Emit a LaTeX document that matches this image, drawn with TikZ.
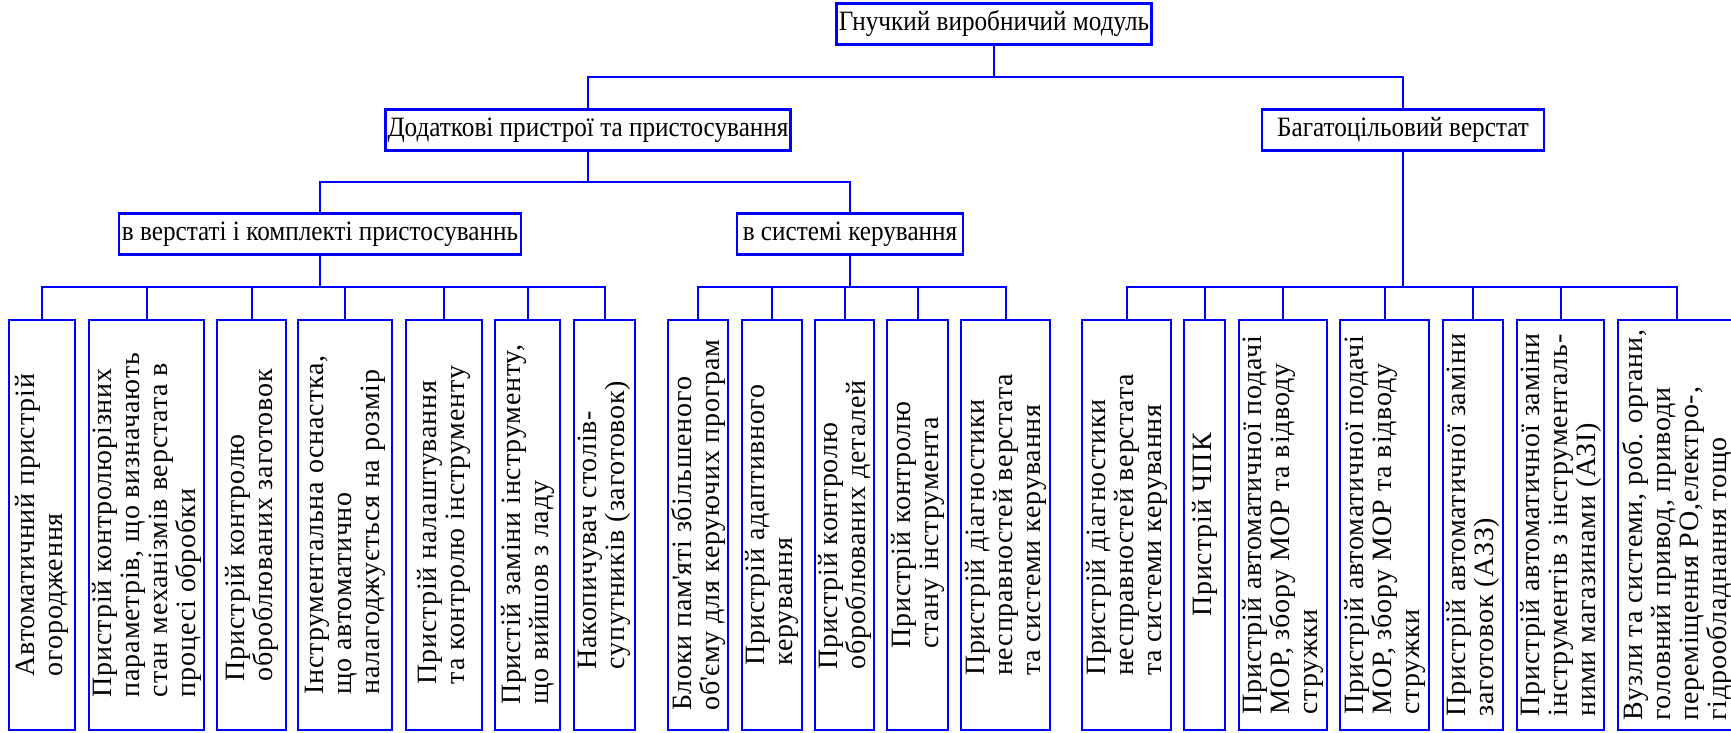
\documentclass[tikz,border=0pt]{standalone}
\usepackage{fontspec}
\setmainfont{Liberation Serif}
\newfontfamily\headfont{Liberation Serif}[FakeStretch=0.9]
\newfontfamily\leaffont{Liberation Serif}[LetterSpace=3]
\tikzset{
  box/.style={draw=blue,line width=2.5pt,inner sep=2pt,minimum height=41,font=\headfont\fontsize{28}{30}\selectfont},
  leaf/.style={draw=blue,line width=2.5pt,rotate=90,minimum width=410,minimum height=#1,inner sep=2pt,align=left,font=\leaffont\fontsize{28}{28}\selectfont},
  wire/.style={blue,line width=2pt}
}
\begin{document}
\begin{tikzpicture}[x=1pt,y=-1pt]
\useasboundingbox (0,0) rectangle (1731,733);
\clip (0,0) rectangle (1731,733);
\fill[white] (0,0) rectangle (1731,733);
\node[box,minimum width=315] (gvm) at (994,24) {Гнучкий виробничий модуль};
\node[box,minimum width=402] (dod) at (588,130) {Додаткові пристрої та пристосування};
\node[box,minimum width=282] (bag) at (1403,130) {Багатоцільовий верстат};
\node[box,minimum width=402] (kompl) at (320,234) {в верстаті і комплекті пристосуваннь};
\node[box,minimum width=226] (sys) at (850,234) {в системі керування};
\node[leaf=66] (l1) at (42,525) {Автоматичний пристрій\\огородження};
\node[leaf=115] (l2) at (146.5,525) {Пристрій контролюрізних\\параметрів, що визначають\\стан механізмів верстата в\\процесі обробки};
\node[leaf=69] (l3) at (251.5,525) {Пристрій контролю\\оброблюваних заготовок};
\node[leaf=94] (l4) at (345,525) {Інструментальна оснастка,\\що автоматично\\налагоджується на розмір};
\node[leaf=76] (l5) at (444,525) {Пристрій налаштування\\та контролю інструменту};
\node[leaf=65] (l6) at (527.5,525) {Пристій заміни інструменту,\\що вийшов з ладу};
\node[leaf=61] (l7) at (604.5,525) {Накопичувач столів-\\супутників (заготовок)};
\node[leaf=60] (l8) at (698,525) {Блоки пам\textquotesingle яті збільшеного\\об\textquotesingle єму для керуючих програм};
\node[leaf=60] (l9) at (772,525) {Пристрій адаптивного\\керування};
\node[leaf=59] (l10) at (844.5,525) {Пристрій контролю\\оброблюваних деталей};
\node[leaf=61] (l11) at (917.5,525) {Пристрій контролю\\стану інструмента};
\node[leaf=89] (l12) at (1005.5,525) {Пристрій діагностики\\несправностей верстата\\та системи керування};
\node[leaf=89] (l13) at (1126.5,525) {Пристрій діагностики\\несправностей верстата\\та системи керування};
\node[leaf=41] (l14) at (1204.5,525) {Пристрій ЧПК};
\node[leaf=88] (l15) at (1283,525) {Пристрій автоматичної подачі\\МОР, збору МОР та відводу\\стружки};
\node[leaf=89] (l16) at (1384.5,525) {Пристрій автоматичної подачі\\МОР, збору МОР та відводу\\стружки};
\node[leaf=60] (l17) at (1473,525) {Пристрій автоматичної заміни\\заготовок (АЗЗ)};
\node[leaf=87] (l18) at (1560.5,525) {Пристрій автоматичної заміни\\інструментів з інструменталь-\\ними магазинами (АЗІ)};
\node[leaf=118] (l19) at (1677,525) {Вузли та системи, роб. органи,\\головний привод, приводи\\переміщення РО,електро-,\\гідрообладнання тощо};
% buses
\coordinate (bus0) at (0,77);
\coordinate (bus1) at (0,182);
\coordinate (bus2) at (0,287);
\draw[wire] (gvm.south) -- (gvm.south |- bus0);
\draw[wire] (dod.north) |- (bag.north |- bus0) -- (bag.north);
\draw[wire] (dod.south) -- (dod.south |- bus1);
\draw[wire] (kompl.north) |- (sys.north |- bus1) -- (sys.north);
\draw[wire] (kompl.south) -- (kompl.south |- bus2);
\draw[wire] (sys.south) -- (sys.south |- bus2);
\draw[wire] (bag.south) -- (bag.south |- bus2);
\draw[wire] (l1.east) |- (l7.east |- bus2) -- (l7.east);
\draw[wire] (l2.east) -- (l2.east |- bus2);
\draw[wire] (l3.east) -- (l3.east |- bus2);
\draw[wire] (l4.east) -- (l4.east |- bus2);
\draw[wire] (l5.east) -- (l5.east |- bus2);
\draw[wire] (l6.east) -- (l6.east |- bus2);
\draw[wire] (l8.east) |- (l12.east |- bus2) -- (l12.east);
\draw[wire] (l9.east) -- (l9.east |- bus2);
\draw[wire] (l10.east) -- (l10.east |- bus2);
\draw[wire] (l11.east) -- (l11.east |- bus2);
\draw[wire] (l13.east) |- (l19.east |- bus2) -- (l19.east);
\draw[wire] (l14.east) -- (l14.east |- bus2);
\draw[wire] (l15.east) -- (l15.east |- bus2);
\draw[wire] (l16.east) -- (l16.east |- bus2);
\draw[wire] (l17.east) -- (l17.east |- bus2);
\draw[wire] (l18.east) -- (l18.east |- bus2);
\end{tikzpicture}
\end{document}
